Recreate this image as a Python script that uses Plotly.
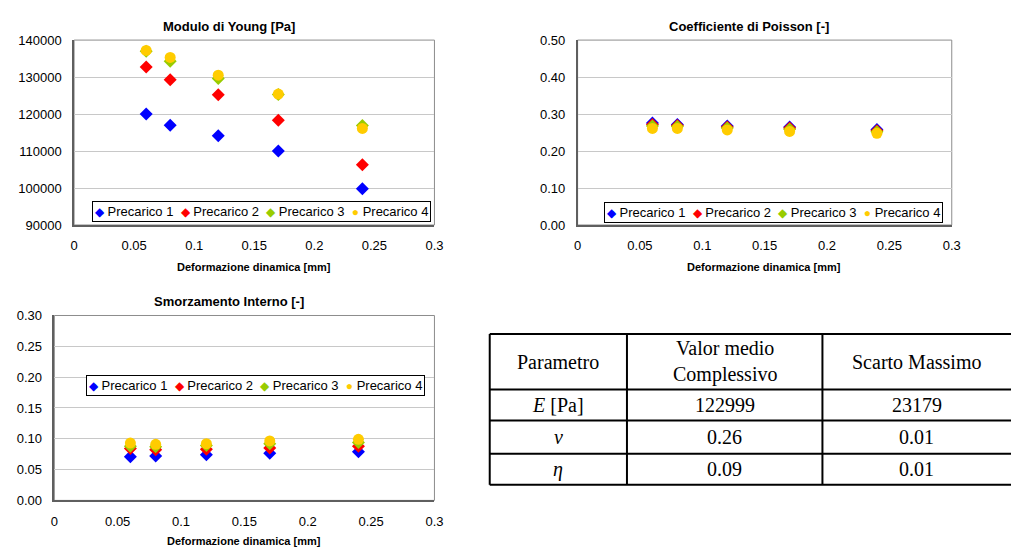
import plotly.graph_objects as go

W, H = 1020, 559

# ---------------- data ----------------
deformazione = [0.06, 0.08, 0.12, 0.17, 0.24]
series_names = ["Precarico 1", "Precarico 2", "Precarico 3", "Precarico 4"]

young_p1 = [120000, 117000, 114100, 110000, 99800]
young_p2 = [132700, 129300, 125200, 118300, 106300]
young_p3 = [137000, 134300, 129600, 125300, 116900]
young_p4 = [137200, 135300, 130500, 125400, 116100]

poisson_p1 = [0.276, 0.272, 0.268, 0.265, 0.258]
poisson_p2 = [0.272, 0.269, 0.265, 0.262, 0.255]
poisson_p3 = [0.268, 0.266, 0.262, 0.259, 0.252]
poisson_p4 = [0.261, 0.261, 0.257, 0.253, 0.248]

smorz_p1 = [0.071, 0.072, 0.074, 0.0765, 0.079]
smorz_p2 = [0.084, 0.082, 0.083, 0.085, 0.088]
smorz_p3 = [0.088, 0.087, 0.089, 0.092, 0.094]
smorz_p4 = [0.093, 0.091, 0.092, 0.0965, 0.099]

chart_titles = ["Modulo di Young [Pa]", "Coefficiente di Poisson [-]", "Smorzamento Interno [-]"]
x_title = "Deformazione dinamica [mm]"

table_header = ["Parametro", "Valor medio<br>Complessivo", "Scarto Massimo"]
table_param = ["<i>E</i> [Pa]", "<i>ν</i>", "<i>η</i>"]
table_mean = ["122999", "0.26", "0.09"]
table_max = ["23179", "0.01", "0.01"]

# ---------------- style ----------------
colors = ["#0000FF", "#FF0000", "#99CC00", "#FFCC00"]
symbols = ["diamond", "diamond", "diamond", "circle"]
legend_glyphs = ["◆", "◆", "◆", "●"]
sizes = [10, 10, 10, 11]
SANS = "Liberation Sans, Arial, sans-serif"
SERIF = "Liberation Serif, Times New Roman, serif"


def px_x(p):
    return p / W


def px_y(p):
    return 1 - p / H


fig = go.Figure()

charts = [
    dict(data=[young_p1, young_p2, young_p3, young_p4], xax="x", yax="y",
         xd=(71, 436), yd=(34, 224), yr=[90000, 140000], dt=10000, fmt="d"),
    dict(data=[poisson_p1, poisson_p2, poisson_p3, poisson_p4], xax="x2", yax="y2",
         xd=(581, 960), yd=(34, 224), yr=[0, 0.5], dt=0.1, fmt=".2f"),
    dict(data=[smorz_p1, smorz_p2, smorz_p3, smorz_p4], xax="x3", yax="y3",
         xd=(51, 436), yd=(317, 507), yr=[0, 0.3], dt=0.05, fmt=".2f"),
]

for c in charts:
    for i, ys in enumerate(c["data"]):
        fig.add_trace(go.Scatter(
            x=deformazione, y=ys, mode="markers", name=series_names[i],
            marker=dict(color=colors[i], symbol=symbols[i], size=sizes[i], line=dict(width=0)),
            xaxis=c["xax"], yaxis=c["yax"], showlegend=False,
        ))

layout = dict(
    width=W, height=H, margin=dict(l=0, r=0, t=0, b=0),
    paper_bgcolor="white", plot_bgcolor="white",
    font=dict(family=SANS, color="black", size=13),
    shapes=[], annotations=[], showlegend=False,
)

legend_text = "  ".join(
    '<span style="color:%s;font-size:12px">%s</span> %s' % (colors[i], legend_glyphs[i], series_names[i])
    for i in range(4)
)
legend_pos = [(89, 199), (608, 200), (83, 378)]

for k, c in enumerate(charts):
    sfx = "" if k == 0 else str(k + 1)
    layout["xaxis" + sfx] = dict(
        domain=[px_x(c["xd"][0]), px_x(c["xd"][1])], anchor="y" + sfx,
        range=[0, 0.3], dtick=0.05, tick0=0, showgrid=False, zeroline=False,
        showline=True, linecolor="#5f5f5f", linewidth=1.5, ticks="",
        ticklabelstandoff=8, tickfont=dict(size=13, family=SANS),
    )
    layout["yaxis" + sfx] = dict(
        domain=[px_y(c["yd"][1]), px_y(c["yd"][0])], anchor="x" + sfx,
        range=c["yr"], dtick=c["dt"], tickformat=c["fmt"], showgrid=True,
        gridcolor="#c8c8c8", gridwidth=1, zeroline=False,
        showline=True, linecolor="#5f5f5f", linewidth=1.5, ticks="",
        ticklabelstandoff=8, tickfont=dict(size=13, family=SANS),
    )
    layout["shapes"].append(dict(
        type="rect", xref="paper", yref="paper",
        x0=px_x(c["xd"][0]), x1=px_x(c["xd"][1]), y0=px_y(c["yd"][1]), y1=px_y(c["yd"][0]),
        line=dict(color="#8c8c8c", width=1), layer="below",
    ))
    lx, ly = legend_pos[k]
    layout["annotations"].append(dict(
        text=legend_text, xref="paper", yref="paper", x=px_x(lx), y=px_y(ly),
        xanchor="left", yanchor="top", showarrow=False, align="left",
        bgcolor="white", bordercolor="black", borderwidth=1, borderpad=2,
        font=dict(size=13, family=SANS, color="black"),
    ))

title_pos = [(228, 20), (755, 20), (228, 303)]
xt_pos = [(253, 267), (770, 267), (243, 549)]
for k in range(3):
    tx, ty = title_pos[k]
    layout["annotations"].append(dict(
        text="<b>%s</b>" % chart_titles[k], xref="paper", yref="paper",
        x=px_x(tx), y=px_y(ty), xanchor="center", yanchor="middle", showarrow=False,
        font=dict(size=13, family=SANS),
    ))
    ax, ay = xt_pos[k]
    layout["annotations"].append(dict(
        text="<b>%s</b>" % x_title, xref="paper", yref="paper",
        x=px_x(ax), y=px_y(ay), xanchor="center", yanchor="middle", showarrow=False,
        font=dict(size=11, family=SANS),
    ))

# ---------------- table (lines + text) ----------------
col_edges = [492, 631, 829, 1020]
row_edges = [336, 393, 425, 459, 491]
for xe in col_edges[:3]:
    layout["shapes"].append(dict(type="line", xref="paper", yref="paper",
                                 x0=px_x(xe), x1=px_x(xe), y0=px_y(row_edges[0]), y1=px_y(row_edges[-1]),
                                 line=dict(color="black", width=2)))
for ye in row_edges:
    layout["shapes"].append(dict(type="line", xref="paper", yref="paper",
                                 x0=px_x(col_edges[0]), x1=1.0, y0=px_y(ye), y1=px_y(ye),
                                 line=dict(color="black", width=2)))

table_cols = [table_param, table_mean, table_max]
for ci in range(3):
    cx = (col_edges[ci] + col_edges[ci + 1]) / 2
    cells = [table_header[ci]] + table_cols[ci]
    for ri, txt in enumerate(cells):
        cy = (row_edges[ri] + row_edges[ri + 1]) / 2
        layout["annotations"].append(dict(
            text=txt, xref="paper", yref="paper", x=px_x(cx), y=px_y(cy),
            xanchor="center", yanchor="middle", showarrow=False,
            font=dict(size=20, family=SERIF, color="black"),
        ))

fig.update_layout(**layout)

# let the figure fill the window exactly (no default body margin, no scrollbars)
post = ("document.body.style.margin='0';document.body.style.padding='0';"
        "document.documentElement.style.overflow='hidden';document.body.style.overflow='hidden';")
fig.write_html("out.html", post_script=post, config={"displayModeBar": False})
